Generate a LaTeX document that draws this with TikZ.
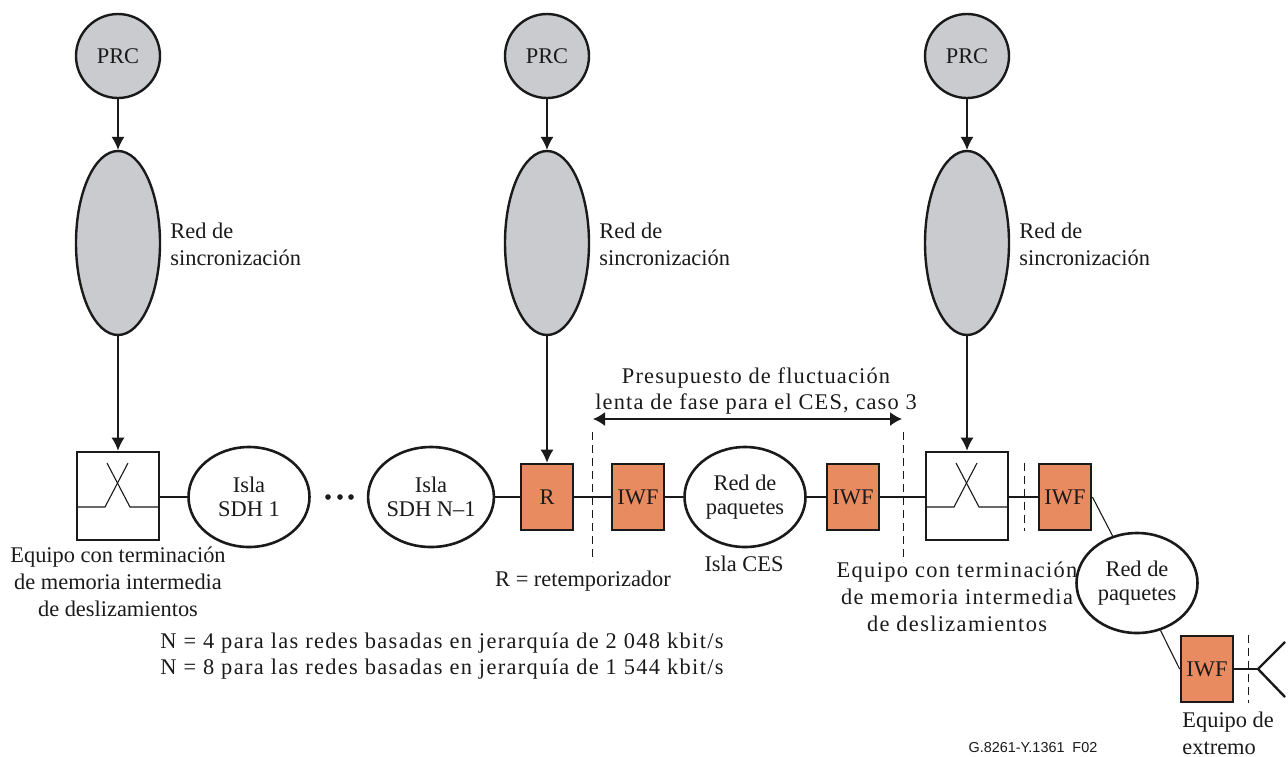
\documentclass[tikz,border=0pt]{standalone}
\usepackage{fontspec}
\setmainfont{Liberation Serif}
\usetikzlibrary{shapes.geometric,arrows.meta}
\definecolor{prcgray}{HTML}{C9CBCE}
\definecolor{iwforange}{HTML}{E98B60}
\definecolor{inkblack}{HTML}{1A1A1A}
\tikzset{
  txt/.style={font=\fontsize{11.2pt}{13.4pt}\selectfont,text=inkblack,inner sep=0pt,align=center},
  widetxt/.style={txt,font=\fontsize{11.2pt}{13.4pt}\selectfont\addfontfeatures{LetterSpace=5.2}},
  widertxt/.style={txt,font=\fontsize{11.2pt}{13.4pt}\selectfont\addfontfeatures{LetterSpace=6}},
  prc/.style={circle,draw=inkblack,fill=prcgray,line width=1.2pt,minimum size=42pt,inner sep=0pt,txt},
  synnet/.style={ellipse,draw=inkblack,fill=prcgray,line width=1.2pt,minimum width=42pt,minimum height=92pt,inner sep=0pt},
  island/.style={ellipse,draw=inkblack,fill=white,line width=1.3pt,minimum width=60.5pt,minimum height=50pt,inner sep=0pt,txt,font=\fontsize{11.2pt}{12.2pt}\selectfont},
  slipbox/.style={rectangle,draw=inkblack,fill=white,line width=1.4pt,minimum width=41pt,minimum height=44pt,inner sep=0pt},
  iwf/.style={rectangle,draw=inkblack,fill=iwforange,line width=1.4pt,minimum width=26pt,minimum height=33pt,inner sep=0pt,txt},
  conn/.style={draw=inkblack,line width=0.55pt},
  feed/.style={conn,-{Latex[length=6.5pt,width=6.5pt]}},
  budget/.style={draw=inkblack,line width=0.4pt,dash pattern=on 4pt off 2.5pt}
}
\begin{document}
\begin{tikzpicture}[x=0.5pt,y=-0.5pt]
  \useasboundingbox (0,0) rectangle (1288,756);

  % Clocks and synchronization networks
  \foreach \n/\x in {a/118,b/547,c/967} {
    \node[prc] (prc\n) at (\x,56) {PRC};
    \node[synnet] (syn\n) at (\x,243) {};
    \node[txt,align=left,anchor=west] (synlabel\n) at (\x+52,244) {Red de\\sincronización};
    \draw[feed] (prc\n) -- (syn\n);
  }

  % Main chain
  \node[slipbox] (boxa) at (118,496) {};
  \node[island] (sdha) at (249,497) {Isla\\SDH 1};
  \node[island] (sdhb) at (431,497) {Isla\\SDH N–1};
  \node[iwf] (retimer) at (547,497) {R};
  \node[iwf] (iwfa) at (638,497) {IWF};
  \node[island] (cesnet) at (745,497) {Red de\\paquetes};
  \node[iwf] (iwfb) at (853,497) {IWF};
  \node[slipbox] (boxb) at (967,496) {};
  \node[iwf] (iwfc) at (1065,497) {IWF};
  \node[island] (pktnet) at (1137,583) {Red de\\paquetes};
  \node[iwf] (iwfd) at (1207,669) {IWF};

  \coordinate (fork) at (1258,669);
  \coordinate (forkup) at (1285,642);
  \coordinate (forkdown) at (1285,697);

  % Three dots between the islands
  \foreach \x in {328,340,351} {
    \fill[inkblack] (\x,497) circle (2.8);
  }

  % Slip buffer symbol
  \foreach \b in {boxa,boxb} {
    \draw[conn] ([shift={(-41,11)}]\b.center) -- ([shift={(-13,11)}]\b.center) -- ([shift={(10,-33)}]\b.center);
    \draw[conn] ([shift={(41,11)}]\b.center) -- ([shift={(12,11)}]\b.center) -- ([shift={(-11,-33)}]\b.center);
  }

  % Connections
  \draw[feed] (syna) -- (boxa);
  \draw[feed] (synb) -- (retimer);
  \draw[feed] (sync) -- (boxb);
  \draw[conn] (boxa.east |- sdha) -- (sdha);
  \draw[conn] (sdhb) -- (retimer);
  \draw[conn] (retimer) -- (iwfa);
  \draw[conn] (iwfa) -- (cesnet);
  \draw[conn] (cesnet) -- (iwfb);
  \draw[conn] (iwfb) -- (boxb.west |- iwfb);
  \draw[conn] (boxb.east |- iwfc) -- (iwfc);
  \draw[conn] (iwfc.east) -- (pktnet);
  \draw[conn] (pktnet) -- (iwfd.west);
  \draw[conn] (iwfd) -- (fork);
  \draw[inkblack,line width=1.2pt] (forkup) -- (fork) -- (forkdown);

  % Budget marks
  \coordinate (budgetl) at (592,432);
  \coordinate (budgetr) at (903,432);
  \coordinate (budgetlb) at (592,562);
  \coordinate (budgetrb) at (903,562);
  \coordinate (arrowl) at (593,419);
  \coordinate (arrowr) at (902,419);
  \draw[budget] (budgetl) -- (budgetlb);
  \draw[budget] (budgetr) -- (budgetrb);
  \draw[budget] (iwfc.north -| 1024,0) -- (iwfc.south -| 1024,0);
  \draw[budget] (iwfd.north -| 1248,0) -- (iwfd.south -| 1248,0);
  \draw[draw=inkblack,line width=0.8pt,{Latex[length=6pt,width=7pt]}-{Latex[length=6pt,width=7pt]}] (arrowl) -- (arrowr);

  % Labels
  \node[widetxt] (budgetlabel) at (756,391) {Presupuesto de fluctuación\\lenta de fase para el CES, caso 3};
  \node[txt] (slipleft) at (118,582) {Equipo con terminación\\de memoria intermedia\\de deslizamientos};
  \node[widertxt] (slipright) at (957,597) {Equipo con terminación\\de memoria intermedia\\de deslizamientos};
  \node[txt] (retimerlabel) at (583,581) {R = retemporizador};
  \node[txt] (ceslabel) at (744,564) {Isla CES};
  \node[widertxt,align=left,anchor=west] (nlabel) at (160,656) {N = 4 para las redes basadas en jerarquía de 2 048 kbit/s\\N = 8 para las redes basadas en jerarquía de 1 544 kbit/s};
  \node[txt,align=left,anchor=west] (endlabel) at (1182,733) {Equipo de\\extremo};
  \node[font=\fontsize{7.2pt}{8pt}\selectfont\fontspec{Liberation Sans},text=inkblack,inner sep=0pt] (figcode) at (1033,748) {G.8261-Y.1361\ \ F02};
\end{tikzpicture}
\end{document}
